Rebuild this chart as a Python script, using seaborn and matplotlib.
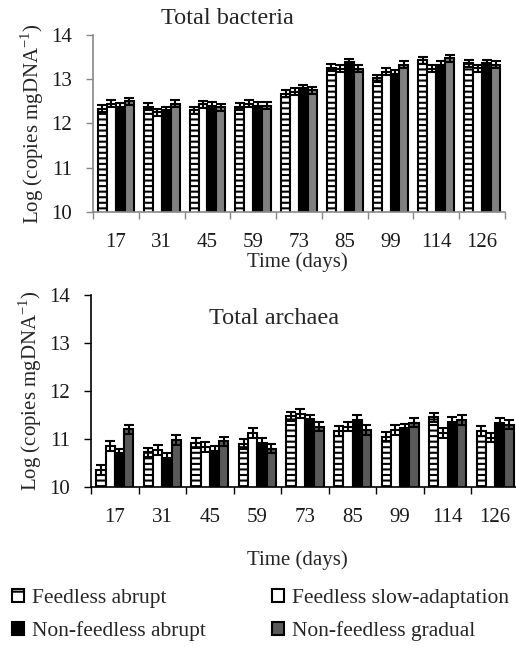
import numpy as np
import pandas as pd
import matplotlib
matplotlib.use("Agg")
import matplotlib.pyplot as plt
import matplotlib.patches as mpatches
import seaborn as sns

days = ["17", "31", "45", "59", "73", "85", "99", "114", "126"]
series = ["Feedless abrupt", "Feedless slow-adaptation", "Non-feedless abrupt", "Non-feedless gradual"]

bact_fa = [12.33, 12.38, 12.30, 12.38, 12.67, 13.26, 13.02, 13.43, 13.36]
bact_fs = [12.45, 12.25, 12.43, 12.45, 12.72, 13.24, 13.17, 13.24, 13.25]
bact_na = [12.38, 12.30, 12.40, 12.40, 12.80, 13.38, 13.12, 13.33, 13.36]
bact_ng = [12.50, 12.45, 12.37, 12.40, 12.75, 13.24, 13.33, 13.47, 13.33]
bact_err = [0.08, 0.08, 0.08, 0.08]

arch_fa = [10.35, 10.72, 10.92, 10.90, 11.47, 11.17, 11.05, 11.45, 11.17]
arch_fs = [10.85, 10.77, 10.83, 11.12, 11.53, 11.26, 11.19, 11.12, 11.03]
arch_na = [10.70, 10.60, 10.76, 10.92, 11.41, 11.40, 11.22, 11.36, 11.34]
arch_ng = [11.20, 10.98, 10.95, 10.80, 11.26, 11.19, 11.34, 11.40, 11.30]
arch_err = [0.10, 0.10, 0.10, 0.10]

FONT = ["Liberation Serif", "DejaVu Serif"]
sns.set_theme(style="white")
plt.rcParams["font.family"] = FONT
plt.rcParams["hatch.linewidth"] = 1.5
plt.rcParams["mathtext.fontset"] = "custom"
plt.rcParams["mathtext.rm"] = "Liberation Serif"

W, H = 516, 647
fig = plt.figure(figsize=(W / 100, H / 100), dpi=100)


def frac(x0, y0, x1, y1):
    return [x0 / W, 1 - y1 / H, (x1 - x0) / W, (y1 - y0) / H]


def make_df(vals):
    rows = []
    for s, v in zip(series, vals):
        for d, val in zip(days, v):
            rows.append({"day": d, "value": val, "series": s})
    return pd.DataFrame(rows)


def panel(ax, vals, errs, gray, spine_color):
    df = make_df(vals)
    sns.barplot(data=df, x="day", y="value", hue="series", order=days,
                hue_order=series, errorbar=None, width=0.78, ax=ax,
                legend=False, palette=["white", "white", "black", gray],
                saturation=1)
    hatches = ["---", "", "", ""]
    for cont, h, v, e in zip(ax.containers, hatches, vals, errs):
        xs = []
        for p in cont.patches:
            p.set_edgecolor("black")
            p.set_linewidth(1.5)
            p.set_hatch(h)
            xs.append(p.get_x() + p.get_width() / 2)
        ax.errorbar(xs, v, yerr=e, fmt="none", ecolor="black",
                    elinewidth=1.5, capsize=3.8, capthick=1.5, zorder=5)
    ax.set_ylim(10, 14)
    ax.set_xlim(-0.5, len(days) - 0.5)
    ax.set_yticks([10, 11, 12, 13, 14])
    ax.set_xticks(range(len(days)))
    ax.set_xticklabels(days)
    ax.set_xticks(np.arange(-0.5, len(days), 1.0), minor=True)
    ax.tick_params(axis="x", which="major", length=0, labelsize=15, pad=15)
    ax.tick_params(axis="x", which="minor", length=5, width=1, color=spine_color,
                   bottom=True)
    ax.tick_params(axis="y", length=5, width=1, color=spine_color, labelsize=15,
                   left=True, pad=10)
    for s in ["top", "right"]:
        ax.spines[s].set_visible(False)
    for s in ["left", "bottom"]:
        ax.spines[s].set_color(spine_color)
        ax.spines[s].set_linewidth(1.2)
    ax.set_xlabel("")
    ax.set_ylabel("Log (copies mgDNA$^{\\mathregular{-1}}$)", fontsize=15,
                  labelpad=4)
    for lab in ax.get_xticklabels() + ax.get_yticklabels():
        lab.set_color("#1a1a1a")


ax1 = fig.add_axes(frac(93, 35, 505, 212))
panel(ax1, [bact_fa, bact_fs, bact_na, bact_ng], bact_err, "#808080", "#888888")
ax2 = fig.add_axes(frac(91, 295, 519, 487))
panel(ax2, [arch_fa, arch_fs, arch_na, arch_ng], arch_err, "#595959", "black")

fig.text(227 / W, 1 - 19 / H, "Total bacteria", fontsize=17.5, ha="center", va="center")
fig.text(274 / W, 1 - 319 / H, "Total archaea", fontsize=17.5, ha="center", va="center")
fig.text(297 / W, 1 - 262 / H, "Time (days)", fontsize=15, ha="center", va="center")
fig.text(297 / W, 1 - 560 / H, "Time (days)", fontsize=15, ha="center", va="center")

patches = [
    mpatches.Patch(facecolor="white", edgecolor="black", hatch="-", linewidth=1.5),
    mpatches.Patch(facecolor="white", edgecolor="black", linewidth=1.5),
    mpatches.Patch(facecolor="black", edgecolor="black", linewidth=1.5),
    mpatches.Patch(facecolor="#595959", edgecolor="black", linewidth=1.5),
]
order = [0, 2, 1, 3]
fig.legend([patches[i] for i in order], [series[i] for i in order],
           loc="upper left", bbox_to_anchor=(12 / W, 1 - 589 / H),
           ncol=2, frameon=False, fontsize=15.5, handlelength=0.56, handleheight=0.56,
           handletextpad=0.37, columnspacing=3.05, labelspacing=0.6,
           borderaxespad=0, borderpad=0)

fig.savefig("out.png", dpi=100)
